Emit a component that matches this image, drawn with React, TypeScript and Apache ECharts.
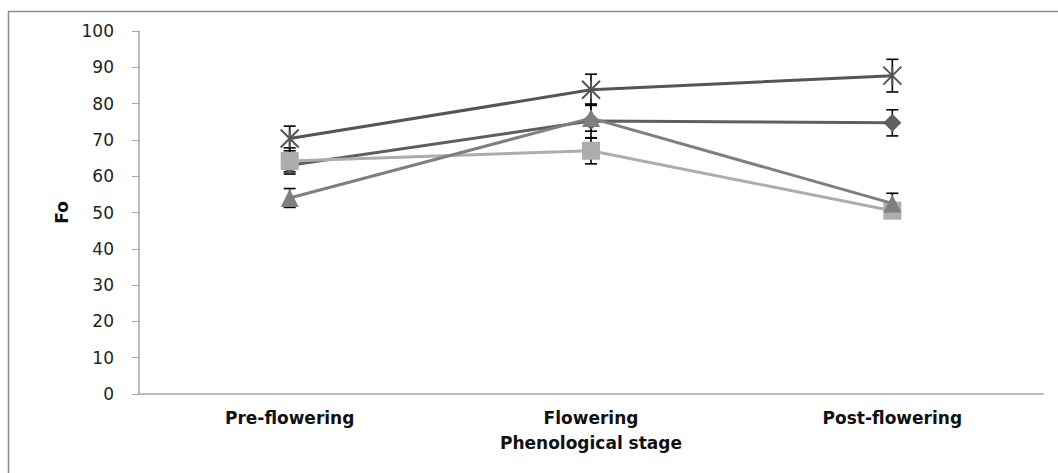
import React, { useEffect, useRef } from "react";
import * as echarts from "echarts";

const categories = ["Pre-flowering", "Flowering", "Post-flowering"];
const yTicks = [0, 10, 20, 30, 40, 50, 60, 70, 80, 90, 100];

const diamondValues = [63, 75.2, 74.7];
const diamondErrors = [1.8, 4.7, 3.6];
const squareValues = [64.2, 67, 50.5];
const squareErrors = [3.6, 3.6, 2.0];
const triangleValues = [54, 76, 52.5];
const triangleErrors = [2.6, 3.6, 2.8];
const starValues = [70.4, 83.8, 87.7];
const starErrors = [3.4, 4.3, 4.5];

const seriesDefs = [
  { name: "Diamond", values: diamondValues, errors: diamondErrors, color: "#5f5f5f", symbol: "diamond", size: 18 },
  { name: "Square", values: squareValues, errors: squareErrors, color: "#adadad", symbol: "rect", size: 18 },
  { name: "Triangle", values: triangleValues, errors: triangleErrors, color: "#7f7f7f", symbol: "triangle", size: 18 },
  { name: "Star", values: starValues, errors: starErrors, color: "#555555", symbol: "path://M0,0L16,16M16,0L0,16M8,0L8,16", size: 18 },
];

export default function App() {
  const ref = useRef<HTMLDivElement>(null);
  useEffect(() => {
    if (!ref.current) return;
    const chart = echarts.init(ref.current, null, { renderer: "svg" });
    const series: any[] = [];
    seriesDefs.forEach((s, si) => {
      const isStar = s.name === "Star";
      series.push({
        type: "custom",
        name: s.name + " err",
        z: 1,
        data: s.values.map((v, i) => [i, v - s.errors[i], v + s.errors[i]]),
        renderItem: (params: any, api: any) => {
          const x = api.value(0);
          const lo = api.coord([x, api.value(1)]);
          const hi = api.coord([x, api.value(2)]);
          const hw = 6;
          const st = { stroke: "#000", lineWidth: 1.6 };
          return {
            type: "group",
            children: [
              { type: "line", shape: { x1: lo[0], y1: lo[1], x2: hi[0], y2: hi[1] }, style: st },
              { type: "line", shape: { x1: lo[0] - hw, y1: lo[1], x2: lo[0] + hw, y2: lo[1] }, style: st },
              { type: "line", shape: { x1: hi[0] - hw, y1: hi[1], x2: hi[0] + hw, y2: hi[1] }, style: st },
            ],
          };
        },
      });
      series.push({
        type: "line",
        name: s.name,
        data: s.values,
        symbol: s.symbol,
        symbolSize: s.size,
        z: 2 + si,
        lineStyle: { color: s.color, width: 3 },
        itemStyle: isStar
          ? { color: "rgba(0,0,0,0)", borderColor: s.color, borderWidth: 2 }
          : { color: s.color, borderWidth: 0 },
      });
    });
    chart.setOption({
      animation: false,
      backgroundColor: "#ffffff",
      graphic: [
        {
          type: "rect",
          shape: { x: 8.5, y: 11.5, width: 1200, height: 600 },
          style: { fill: "none", stroke: "#8c8c8c", lineWidth: 1.5 },
          silent: true,
        },
      ],
      grid: { left: 139, right: 15, top: 31, bottom: 79, containLabel: false },
      xAxis: {
        type: "category",
        data: categories,
        boundaryGap: true,
        name: "Phenological stage",
        nameLocation: "middle",
        nameGap: 40,
        nameTextStyle: { fontFamily: "DejaVu Sans", fontWeight: "bold", fontSize: 17, color: "#111" },
        axisLine: { lineStyle: { color: "#a6a6a6", width: 1.5 } },
        axisTick: { show: false },
        axisLabel: { fontFamily: "DejaVu Sans", fontWeight: "bold", fontSize: 17, color: "#111", margin: 15 },
      },
      yAxis: {
        type: "value",
        min: yTicks[0],
        max: yTicks[yTicks.length - 1],
        interval: 10,
        name: "Fo",
        nameLocation: "middle",
        nameGap: 66,
        nameTextStyle: { fontFamily: "DejaVu Sans", fontWeight: "bold", fontSize: 17, color: "#111" },
        splitLine: { show: false },
        axisLine: { show: true, lineStyle: { color: "#a6a6a6", width: 1.5 } },
        axisTick: { show: true, length: 7, lineStyle: { color: "#a6a6a6" } },
        axisLabel: { fontFamily: "DejaVu Sans", fontSize: 17, color: "#222", margin: 25 },
      },
      series,
    });
    return () => chart.dispose();
  }, []);
  return (
    <div
      ref={ref}
      style={{ position: "absolute", left: 0, top: 0, width: 1058, height: 473 }}
    />
  );
}
